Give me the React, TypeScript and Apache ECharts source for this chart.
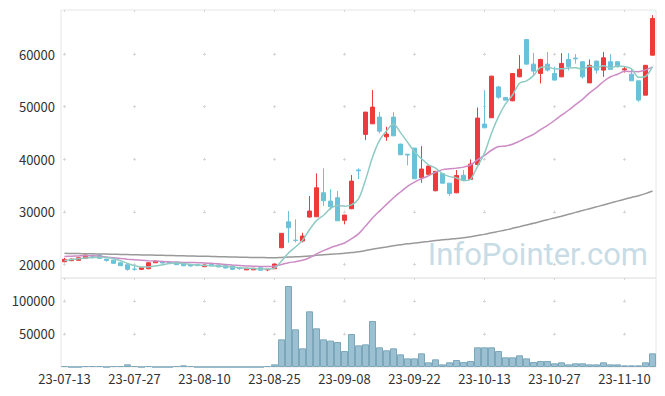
import React, { useEffect, useRef } from "react";
import * as echarts from "echarts";

const dates = [
  "23-07-13","23-07-14","23-07-17","23-07-18","23-07-19","23-07-20","23-07-21","23-07-24","23-07-25","23-07-26",
  "23-07-27","23-07-28","23-07-31","23-08-01","23-08-02","23-08-03","23-08-04","23-08-07","23-08-08","23-08-09",
  "23-08-10","23-08-11","23-08-14","23-08-16","23-08-17","23-08-18","23-08-21","23-08-22","23-08-23","23-08-24",
  "23-08-25","23-08-28","23-08-29","23-08-30","23-08-31","23-09-01","23-09-04","23-09-05","23-09-06","23-09-07",
  "23-09-08","23-09-11","23-09-12","23-09-13","23-09-14","23-09-15","23-09-18","23-09-19","23-09-20","23-09-21",
  "23-09-22","23-09-25","23-09-26","23-09-27","23-10-04","23-10-05","23-10-06","23-10-10","23-10-11","23-10-12",
  "23-10-13","23-10-16","23-10-17","23-10-18","23-10-19","23-10-20","23-10-23","23-10-24","23-10-25","23-10-26",
  "23-10-27","23-10-30","23-10-31","23-11-01","23-11-02","23-11-03","23-11-06","23-11-07","23-11-08","23-11-09",
  "23-11-10","23-11-13","23-11-14","23-11-15","23-11-16"
];

const opens = [
  20500,20700,20760,21140,21650,21770,21000,20800,20300,19930,
  19100,19050,19160,20300,20500,20400,20440,20190,19930,19930,
  19550,19950,19870,19750,19680,19350,18950,18950,19350,18950,
  19160,23160,28100,24600,24430,29000,29050,33620,32040,32670,
  28370,30580,37950,44730,46740,48020,44270,48020,42880,40950,
  42120,36470,37120,34000,37280,35440,33610,36960,36170,39020,
  46690,47890,53770,51760,51120,55680,62790,58100,56330,58100,
  56330,55680,59000,59250,58550,54530,58680,56960,58550,58550,
  57000,56190,54920,52200,59810
];
const closes = [
  20950,21000,21250,21770,21550,21140,20750,20190,19730,19050,
  19050,19350,20300,20630,20250,20200,19930,19730,19680,19750,
  19870,19700,19500,19300,19050,19200,19250,19250,18860,19050,
  20060,25900,26960,24550,25380,30140,34570,32100,30960,28290,
  29380,35840,37800,48970,49920,45350,44780,44460,40850,40800,
  36280,38130,38700,37700,35440,33480,36900,36010,39080,47830,
  45980,55810,51800,51250,56310,57120,58100,56770,59000,56960,
  55060,58230,57580,59100,55680,57870,56960,59300,57100,57580,
  57200,54920,51250,57870,66790
];
const lows = [
  20400,20600,20700,21100,21060,21100,20500,20150,19700,18780,
  18800,18900,19100,20250,20150,20100,19900,19700,19600,19700,
  19500,19650,19450,19250,18900,18950,18900,18900,18800,18700,
  19100,23100,24110,24180,24180,28900,29000,31090,30330,28250,
  27610,30500,36220,43640,46700,44920,43510,44400,40800,38830,
  36250,35520,37050,33900,35400,33040,33550,35950,36100,38950,
  45950,47850,51500,51200,51050,55600,58050,56000,54430,56700,
  55000,55600,56900,58200,55370,54500,56300,55680,57050,57500,
  56500,54900,50930,52150,59750
];
const highs = [
  21250,21100,21300,21850,21900,21800,21050,20850,20350,20000,
  19900,19400,20400,20700,20650,20500,20500,20250,20000,20000,
  19950,20050,19950,19800,19700,19500,19300,19300,19400,19100,
  20150,25950,30140,28560,26010,33000,37310,38260,34270,33940,
  29450,36980,38260,49000,53150,49020,46170,48970,42950,41000,
  42150,42500,38800,37750,37350,35500,37940,37940,39970,49850,
  53150,55900,53900,51800,56400,59810,62850,60250,59100,60400,
  57600,60200,60200,60000,58600,59000,58750,60430,60000,58600,
  57700,57300,55000,57950,67420
];
const volumes = [
  1500,0,0,1500,1500,1500,0,1500,1500,4000,
  1500,0,1500,0,0,0,1500,2500,1500,0,
  0,0,0,0,0,0,0,0,0,1500,
  4000,41900,122700,57100,28300,84300,58600,41900,40000,37900,
  24200,50000,32800,34300,69700,29800,25300,28300,19200,13100,
  13100,20700,7100,11600,4000,7100,10600,7600,9100,29800,
  29800,29800,24200,14700,14700,17700,13100,7600,9100,9100,
  5600,7100,4000,5600,5600,4000,4000,7100,4000,4000,
  2500,2500,2500,7100,20700
];
const ma5 = [
  20750,20900,21050,21200,21300,21340,21290,21080,20670,20170,
  19750,19470,19500,19680,19920,20150,20260,20150,19960,19860,
  19790,19750,19700,19620,19480,19350,19260,19210,19120,19120,
  19290,20620,22170,23300,24570,26590,28320,29350,30630,31210,
  31060,31310,32450,36060,40380,43580,45360,46700,45070,43250,
  41430,40100,38950,38320,37250,36690,36440,35910,36180,38660,
  41160,44940,48100,50530,52230,54460,54920,55910,57460,57590,
  57180,57200,57370,57390,57130,57690,57440,57780,57380,57760,
  57630,57220,55610,55760,57610
];
const ma20 = [
  21500,21550,21600,21650,21650,21550,21400,21250,21100,20980,
  20880,20790,20700,20620,20550,20480,20420,20370,20340,20310,
  20260,20190,20110,19980,19860,19760,19690,19640,19600,19600,
  19650,19970,20310,20500,20760,21260,21990,22610,23170,23600,
  24070,24880,25800,27280,28820,30130,31410,32670,33770,34850,
  35660,36280,36860,37520,38020,38190,38310,38500,38910,39890,
  40720,41710,42410,42530,42850,43440,44100,44720,45630,46430,
  47370,48380,49320,50390,51400,52620,53630,54790,55690,56180,
  56740,56700,56670,57000,57520
];
const ma120 = [
  22090,22070,22050,22020,22000,21970,21950,21920,21890,21860,
  21830,21800,21770,21740,21710,21680,21650,21620,21590,21560,
  21530,21500,21460,21430,21400,21370,21340,21310,21290,21270,
  21260,21320,21390,21430,21490,21580,21710,21820,21920,22000,
  22090,22230,22380,22630,22890,23110,23320,23540,23720,23900,
  24040,24200,24360,24520,24660,24780,24930,25070,25240,25480,
  25700,26010,26270,26540,26850,27170,27500,27810,28160,28500,
  28820,29170,29520,29890,30230,30590,30940,31310,31670,32030,
  32390,32730,33060,33460,33950
];
const priceTicks = [20000, 30000, 40000, 50000, 60000];
const volumeTicks = [50000, 100000];

const FONT = '"Noto Sans CJK KR", "Noto Sans", sans-serif';
const GRID_DOT = "#d6d6d6";

export default function App() {
  const ref = useRef<HTMLDivElement>(null);
  useEffect(() => {
    if (!ref.current) return;
    const chart = echarts.init(ref.current, undefined, { renderer: "svg" });
    const candleData = dates.map((_, i) => [opens[i], closes[i], lows[i], highs[i]]);
    const hLine = { show: true, lineStyle: { color: GRID_DOT, width: 1, type: [3, 67], dashOffset: 68 } };
    const plain = (v: number) => String(v);
    chart.setOption({
      animation: false,
      backgroundColor: "#fff",
      textStyle: { fontFamily: FONT },
      grid: [
        { left: 61, right: 9, top: 10, height: 268, show: true, borderColor: "#e6e6e6", borderWidth: 1, backgroundColor: "transparent" },
        { left: 61, right: 9, top: 278, height: 89, show: true, borderColor: "#e6e6e6", borderWidth: 1, backgroundColor: "transparent" }
      ],
      xAxis: [
        {
          type: "category", gridIndex: 0, data: dates, boundaryGap: true,
          axisLine: { show: false }, axisTick: { show: false }, axisLabel: { show: false },
          splitLine: { show: true, interval: 9, alignWithLabel: true,
            lineStyle: { color: GRID_DOT, width: 1, type: [2, 40.64, 3, 49.55, 3, 49.55, 3, 49.55, 3, 49.55, 3, 200] } }
        },
        {
          type: "category", gridIndex: 1, data: dates, boundaryGap: true,
          axisLine: { show: false }, axisTick: { show: false },
          axisLabel: { interval: 9, fontSize: 13, color: "#333", margin: 5, fontFamily: FONT },
          splitLine: { show: true, interval: 9, alignWithLabel: true,
            lineStyle: { color: GRID_DOT, width: 1, type: [2, 19.48, 3, 30.01, 3, 200] } }
        }
      ],
      yAxis: [
        {
          type: "value", gridIndex: 0, min: 17400, max: 68400, scale: true,
          axisLine: { show: false },
          axisTick: { show: false, customValues: priceTicks },
          axisLabel: { customValues: priceTicks, formatter: plain, fontSize: 13, color: "#333", margin: 6, fontFamily: FONT },
          splitLine: hLine
        },
        {
          type: "value", gridIndex: 1, min: 0, max: 134800,
          axisLine: { show: false },
          axisTick: { show: false, customValues: volumeTicks },
          axisLabel: { customValues: volumeTicks, formatter: plain, fontSize: 13, color: "#333", margin: 6, fontFamily: FONT },
          splitLine: hLine
        }
      ],
      series: [
        {
          type: "candlestick", xAxisIndex: 0, yAxisIndex: 0, data: candleData, barWidth: 5,
          itemStyle: { color: "#ee3a3a", color0: "#6ac2d9", borderColor: "#ee3a3a", borderColor0: "#6ac2d9", borderWidth: 1 }
        },
        {
          type: "line", xAxisIndex: 0, yAxisIndex: 0, data: ma120, showSymbol: false, smooth: 0.3,
          lineStyle: { color: "#999999", width: 1.5 }
        },
        {
          type: "line", xAxisIndex: 0, yAxisIndex: 0, data: ma20, showSymbol: false, smooth: 0.3,
          lineStyle: { color: "#cc8cc6", width: 1.5 }
        },
        {
          type: "line", xAxisIndex: 0, yAxisIndex: 0, data: ma5, showSymbol: false, smooth: 0.3,
          lineStyle: { color: "#8ecbc2", width: 1.5 }
        },
        {
          type: "bar", xAxisIndex: 1, yAxisIndex: 1, data: volumes, barWidth: "100%", barCategoryGap: "0%",
          itemStyle: { color: "#9bc0d1", borderColor: "#7ca7ba", borderWidth: 1 }
        }
      ],
      graphic: [
        {
          type: "text", silent: true, z: 0,
          style: { text: "InfoPointer.com", x: 648, y: 254, align: "right", verticalAlign: "middle",
            fill: "#c8dce6", font: "31px Roboto" }
        }
      ]
    });
    return () => chart.dispose();
  }, []);
  return <div ref={ref} style={{ position: "fixed", left: 0, top: 0, width: 665, height: 396 }} />;
}
